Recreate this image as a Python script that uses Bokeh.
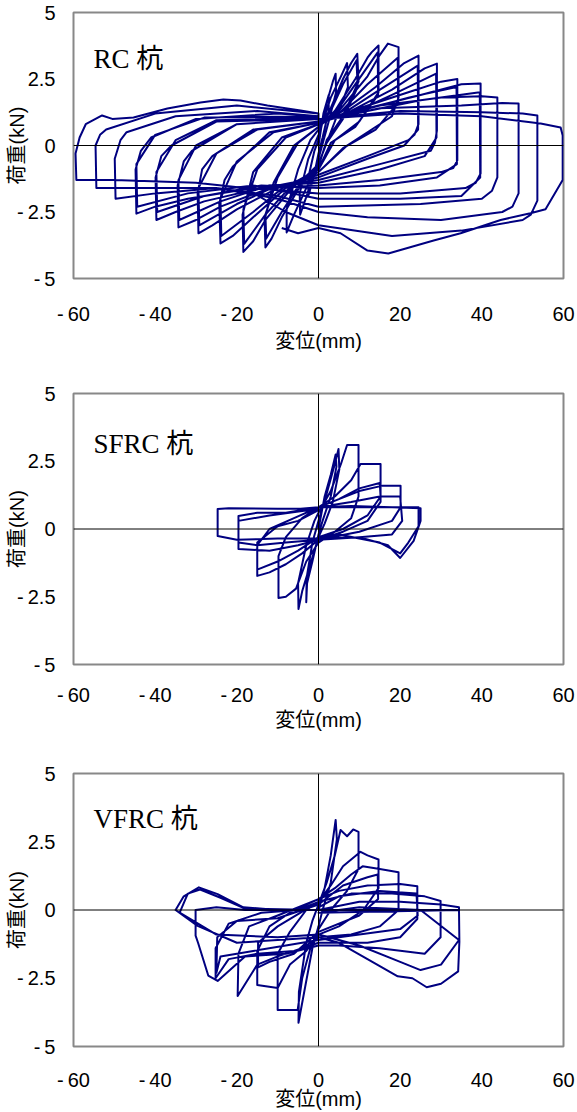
from bokeh.plotting import figure
from bokeh.layouts import column
from bokeh.models import Span, Label, FixedTicker, Range1d
from bokeh.embed import file_html
from bokeh.resources import INLINE

# ---- data (displacement mm, load kN), one list of points per loading cycle ----
rc_cycles = [
    [(0,0),(1.2,1.2),(2.5,1.9),(2.5,1.3),(1,0.3),(0,-0.3),(-1.2,-1.2),(-2.5,-1.9),(-2.5,-1.2),(-1,-0.2),(0,0.2)],
    [(0,0.2),(2,1.6),(3.5,2.4),(4.2,2.7),(4.3,2.0),(2.5,0.9),(0,-0.5),(-2,-1.5),(-4.5,-2.6),(-4.6,-1.8),(-2.5,-0.5),(0,0.4)],
    [(0,0.4),(3,1.8),(5.5,2.6),(7,3.1),(7.2,2.2),(4,0.9),(0,-0.7),(-3,-1.6),(-6,-2.6),(-7.8,-3.27),(-7.8,-2.4),(-5,-0.9),(-2,0.2),(0,0.6)],
    [(0,0.6),(3,1.4),(6,2.5),(8,3.1),(9.5,3.45),(9.8,2.4),(6,1.1),(2,0.2),(0,-0.8),(-4,-1.4),(-9,-2.7),(-11.5,-3.5),(-13,-3.83),(-13.2,-2.8),(-11,-1.4),(-6,0.0),(0,0.7)],
    [(0,0.7),(3,1.3),(6,2.3),(9.3,3.2),(9.6,2.2),(6,1.0),(2,0.1),(0,-0.7),(-4,-1.3),(-9,-2.5),(-12.8,-3.5),(-13,-2.6),(-10,-1.2),(-5,0.1),(0,0.7)],
    [(0,0.7),(4,1.3),(9,2.5),(12,3.3),(13,3.5),(14.7,3.76),(14.7,2.0),(10,0.9),(4,0.2),(0,-0.9),(-6,-1.5),(-13,-2.8),(-16,-3.6),(-18.4,-4.0),(-18.6,-2.6),(-16,-1.0),(-9,0.3),(0,0.8)],
    [(0,0.7),(4,1.2),(9,2.3),(14.5,3.5),(14.6,1.9),(9,0.7),(3,0.1),(0,-0.9),(-6,-1.4),(-13,-2.6),(-18.2,-3.7),(-18.4,-2.4),(-15,-0.9),(-8,0.3),(0,0.8)],
    [(0,0.75),(5,1.3),(12,2.6),(15,3.4),(17,3.83),(19.6,3.7),(19.6,1.8),(18,1.1),(15,0.8),(7,0.0),(0,-1.0),(-8,-1.6),(-16,-2.7),(-21,-3.4),(-24,-3.68),(-24.3,-2.2),(-23,-1.3),(-21,-0.8),(-12,0.5),(0,0.85)],
    [(0,0.75),(5,1.2),(12,2.3),(19.4,3.3),(19.5,1.6),(14,0.6),(6,-0.1),(0,-1.0),(-8,-1.5),(-16,-2.5),(-23.8,-3.4),(-24,-2.0),(-20,-0.6),(-11,0.5),(0,0.85)],
    [(0,0.8),(6,1.3),(14,2.2),(21,3.1),(24.5,3.38),(24.5,0.8),(23.5,0.4),(22,0.2),(12,-0.4),(0,-1.1),(-10,-1.6),(-20,-2.4),(-26,-3.0),(-29.4,-3.3),(-29.6,-1.8),(-28.5,-0.9),(-26,-0.4),(-16,0.6),(0,0.9)],
    [(0,0.8),(6,1.2),(14,2.0),(24.3,3.0),(24.4,0.6),(21,0.0),(12,-0.5),(0,-1.2),(-10,-1.5),(-20,-2.2),(-29.2,-3.0),(-29.4,-1.6),(-25,-0.3),(-15,0.6),(0,0.9)],
    [(0,0.8),(8,1.3),(18,2.1),(26,2.9),(29,3.08),(29,0.56),(28.5,0.1),(27.5,-0.2),(15,-0.7),(0,-1.3),(-12,-1.6),(-24,-2.3),(-30,-2.8),(-34.3,-3.08),(-34.5,-1.5),(-33,-0.6),(-31,-0.2),(-20,0.8),(0,1.0)],
    [(0,0.85),(8,1.2),(18,1.9),(28.8,2.7),(28.9,0.3),(26,-0.4),(15,-0.9),(0,-1.4),(-12,-1.5),(-24,-2.1),(-34.1,-2.8),(-34.3,-1.3),(-30,0.0),(-20,0.8),(0,1.0)],
    [(0,0.85),(10,1.4),(22,2.0),(30,2.4),(34,2.5),(34,-0.56),(33,-0.85),(30,-1.0),(15,-1.3),(0,-1.5),(-14,-1.6),(-28,-2.1),(-35,-2.5),(-39.7,-2.8),(-39.9,-1.2),(-38.5,-0.4),(-36,0.0),(-25,0.9),(0,1.0)],
    [(0,0.9),(10,1.3),(22,1.8),(33.8,2.2),(33.9,-0.7),(29,-1.2),(15,-1.5),(0,-1.6),(-14,-1.5),(-28,-1.9),(-39.5,-2.5),(-39.7,-1.0),(-35,0.2),(-25,0.95),(0,1.05)],
    [(0,0.9),(12,1.4),(25,1.9),(35,2.3),(39.7,2.33),(39.7,-1.05),(38.5,-1.4),(36,-1.6),(20,-1.8),(0,-1.8),(-16,-1.6),(-32,-2.0),(-40,-2.3),(-44.6,-2.56),(-44.8,-0.9),(-43.5,-0.2),(-41,0.3),(-30,1.0),(-10,1.2),(0,1.1)],
    [(0,0.9),(12,1.3),(25,1.7),(39.5,2.0),(39.6,-1.2),(35,-1.9),(20,-2.0),(0,-2.0),(-16,-1.5),(-32,-1.8),(-44.4,-2.3),(-44.6,-0.7),(-40,0.4),(-28,1.05),(0,1.1)],
    [(0,0.9),(15,1.5),(30,1.8),(40,1.85),(43.8,1.8),(43.8,-1.2),(42.5,-1.7),(40,-2.0),(25,-2.2),(0,-2.3),(-10,-1.9),(-25,-1.6),(-40,-1.8),(-49.7,-2.0),(-49.9,-0.5),(-48.5,0.2),(-47,0.5),(-35,1.1),(-15,1.3),(0,1.1)],
    [(0,0.9),(15,1.4),(35,1.5),(45,1.6),(49,1.58),(49,-1.8),(47.5,-2.3),(45,-2.5),(30,-2.8),(12,-2.7),(0,-2.5),(-10,-2.0),(-25,-1.6),(-45,-1.6),(-54.4,-1.6),(-54.6,0.0),(-53.5,0.4),(-52,0.6),(-40,1.2),(-20,1.5),(0,1.2)],
    [(0,1.0),(20,1.3),(40,1.25),(50,1.2),(53.6,1.13),(53.6,-2.07),(52,-2.6),(50,-2.8),(35,-3.2),(18,-3.4),(0,-3.0),(-8,-2.5),(-18,-1.6),(-30,-1.4),(-50,-1.3),(-59.3,-1.3),
     (-59.5,-0.3),(-58.5,0.3),(-57,0.8),(-53,1.13),(-50.5,1.0),(-45.3,1.05),(-37,1.39),(-28.9,1.62),(-23.3,1.73),(-19.1,1.69),(-12.5,1.5),(-4.4,1.32),(0,1.2)],
    [(0,1.0),(20,1.2),(40,1.1),(54.4,0.83),(59.3,0.68),(59.8,0.38),(59.8,-1.3),(55.6,-2.4),(51.9,-2.55),(44.6,-2.8),(34.8,-3.3),(28.2,-3.57),(17.1,-4.06),(12,-3.95),(5.4,-3.3),(0,-3.1),(-5,-3.3),(-9,-3.1)],
]

sfrc_cycles = [
    [(0,0),(1.5,1.2),(3,2.0),(4.2,2.75),(4.4,2.3),(3,1.2),(1,0.3),(0,-0.2),(-1.5,-1.2),(-2.8,-2.0),(-3,-2.7),(-2.9,-1.8),(-1.5,-0.5),(0,0.3)],
    [(0,0.3),(2,1.3),(4,2.4),(4.9,2.95),(5.1,2.2),(3.5,1.0),(1.5,0.2),(0,-0.3),(-2,-1.3),(-4,-2.3),(-4.9,-2.95),(-5,-2.0),(-3,-0.6),(-1,0.3),(0,0.6)],
    [(0,0.6),(3,1.4),(5.5,2.4),(7,3.1),(9.8,3.1),(9.8,1.2),(8,0.4),(4,-0.1),(0,-0.5),(-3,-1.2),(-5.5,-2.2),(-8,-2.5),(-9.8,-2.55),(-9.8,-1.0),(-8,-0.3),(-4,0.4),(0,0.8)],
    [(0,0.8),(4,1.2),(8,1.8),(10.3,2.4),(15.2,2.4),(15.2,1.0),(12,0.3),(6,-0.1),(0,-0.4),(-4,-0.9),(-8,-1.3),(-12,-1.6),(-15,-1.73),(-15,-0.6),(-12,0.0),(-6,0.4),(0,0.8)],
    [(0,0.8),(5,1.1),(10,1.5),(15,1.7),(15.2,1.2),(12,0.5),(6,0.0),(0,-0.3),(-5,-0.8),(-10,-1.2),(-15,-1.5),(-15,-0.5),(-10,0.1),(-5,0.3),(0,0.7)],
    [(0,0.8),(5,1.1),(10,1.4),(15.7,1.6),(20.1,1.6),(20.1,0.8),(18,0.3),(10,-0.1),(0,-0.4),(-5,-0.6),(-12,-0.8),(-19.6,-0.74),(-19.6,0.48),(-15,0.6),(-8,0.6),(0,0.8)],
    [(0,0.8),(8,1.0),(15,1.2),(20,1.2),(20.5,0.3),(18,-0.2),(10,-0.3),(0,-0.4),(-8,-0.5),(-15,-0.6),(-19.6,-0.5),(-19.6,0.3),(-12,0.5),(0,0.75)],
    [(0,0.8),(8,0.85),(18,0.8),(25,0.77),(25,0.3),(23.3,-0.44),(20,-1.07),(17,-0.6),(10,-0.3),(0,-0.35),(-10,-0.35),(-20,-0.4),(-24.7,-0.26),(-24.7,0.74),(-22,0.77),(-10,0.75),(-4.4,0.75),(0,0.8)],
    [(0,0.8),(10,0.8),(20,0.8),(24.5,0.8),(24.5,0.1),(22,-0.5),(20,-0.9),(15,-0.5),(5,-0.2),(0,-0.3)],
]

vfrc_cycles = [
    [(0,0),(1.5,0.8),(3,2.0),(4.2,3.3),(4.5,2.6),(3,1.0),(1,0.0),(0,-0.6),(-1.5,-1.4),(-3,-2.6),(-4.9,-4.13),(-4.8,-3.0),(-3,-1.2),(-1.5,-0.4),(0,0.2)],
    [(0,0.2),(2,1.0),(4,2.0),(5.4,2.93),(7,2.7),(8.5,2.95),(9.8,2.86),(9.8,1.5),(7,0.7),(3,0.0),(0,-0.7),(-2,-1.4),(-4,-2.5),(-5.1,-3.66),(-10,-3.66),(-10,-1.6),(-7,-0.8),(-3,0.0),(0,0.3)],
    [(0,0.3),(3,0.9),(6,1.6),(10.3,2.13),(12,2.0),(14.7,1.85),(14.7,0.8),(11,0.0),(5,-0.6),(0,-0.9),(-3,-1.5),(-7,-2.0),(-10,-2.86),(-15,-2.75),(-15,-1.5),(-12,-0.6),(-6,0.0),(0,0.4)],
    [(0,0.2),(6,0.9),(12,1.2),(14.5,1.3),(14.6,0.4),(10,-0.2),(0,-0.8),(-6,-1.6),(-12,-1.9),(-14.8,-2.1),(-14.8,-1.2),(-10,-0.6),(0,0.3)],
    [(0,0.4),(4,0.8),(8,1.3),(10.8,1.6),(15,1.5),(19.6,1.38),(19.6,0.0),(15,-0.6),(8,-0.9),(0,-1.0),(-4,-1.4),(-10,-1.7),(-15,-2.0),(-19.8,-3.15),(-19.6,-1.6),(-17,-0.6),(-10,-0.2),(0,0.4)],
    [(0,0.4),(5,0.7),(12,0.9),(20,0.95),(24.2,0.87),(24.2,-0.33),(20,-1.0),(12,-1.2),(0,-1.2),(-6,-1.5),(-15,-1.6),(-22,-1.8),(-25.2,-2.5),(-25.2,-1.4),(-22,-0.5),(-14,-0.1),(-5,0.0),(0,0.3)],
    [(0,0.1),(5,0.5),(15,0.7),(24,0.6),(24.3,-0.2),(20,-0.7),(10,-0.9),(0,-1.1),(-8,-1.3),(-16,-1.5),(-24,-1.7),(-25,-2.3),(-24.8,-1.0),(-20,-0.4),(-10,-0.3),(0,0.2)],
    [(0,0.3),(8,0.6),(18,0.6),(26,0.5),(29.9,0.33),(29.9,-1.0),(26,-1.6),(15,-1.4),(5,-1.3),(0,-1.3),(-8,-1.6),(-18,-1.7),(-24.7,-2.6),(-27,-2.4),(-29.5,-1.2),(-30.1,-0.94),(-30.1,0.0),(-25,0.1),(-18,0.0),(0,0.0)],
    [(0,0),(10,0.3),(20,0.3),(30,0.2),(34.4,0.1),(34.5,-1.17),(34.2,-2.25),(30,-2.7),(26.5,-2.83),(23,-2.5),(19.4,-2.43),(12,-1.8),(5,-1.2),(0,-1.0),(-10,-1.1),(-20,-1.2),(-29.6,-0.58),(-35,0.0),(-33,0.5),(-29.3,0.83),(-24.7,0.58),(-18.4,0.1),(-10,0.0),(0,0.0),(34.4,0.0)],
    [(0,-0.1),(10,0.1),(25,0.0),(34.4,-1.1),(30,-2.0),(25,-2.2),(20,-1.9),(10,-1.3),(0,-0.9),(-10,-1.0),(-25,-0.9),(-34,-0.1),(-32,0.6),(-29,0.75),(-24,0.45),(-18,0.05),(0,0.0)],
]

titles = ["RC 杭", "SFRC 杭", "VFRC 杭"]
x_ticks = [-60, -40, -20, 0, 20, 40, 60]
x_tick_labels = {-60: "-\u200960", -40: "-\u200940", -20: "-\u200920", 0: "0", 20: "20", 40: "40", 60: "60"}
y_ticks = [-5, -2.5, 0, 2.5, 5]
y_tick_labels = {5: "5", 2.5: "2.5", 0: "0", -2.5: "-\u20092.5", -5: "-\u20095"}

LINE = "#000080"
SANS = "Liberation Sans, Noto Sans CJK JP"
SERIF = "Liberation Serif, Noto Sans CJK JP"


def make(cycles, title, height, top, frame_h, tick_sd, lab_sd, title_y):
    p = figure(width=577, height=height, output_backend="svg", toolbar_location=None,
               x_range=Range1d(-60, 60), y_range=Range1d(-5, 5),
               min_border_left=73, min_border_right=14, min_border_top=top,
               min_border_bottom=height - top - frame_h)
    xs = [pt[0] for c in cycles for pt in c]
    ys = [pt[1] for c in cycles for pt in c]
    p.line(xs, ys, line_color=LINE, line_width=2, line_join="round")
    p.add_layout(Span(location=0, dimension="width", line_color="black", line_width=1))
    p.add_layout(Span(location=0, dimension="height", line_color="black", line_width=1))
    p.add_layout(Label(x=-55.1, y=title_y, text=title, text_font=SERIF, text_font_size="27px",
                       text_baseline="alphabetic", text_color="black"))
    p.grid.visible = False
    p.outline_line_color = "#888888"
    p.outline_line_width = 2
    p.background_fill_color = "white"
    p.border_fill_color = "white"
    for ax in (p.xaxis[0], p.yaxis[0]):
        ax.axis_line_color = None
        ax.major_tick_line_color = None
        ax.minor_tick_line_color = None
        ax.major_tick_out = 0
        ax.major_tick_in = 0
        ax.minor_tick_out = 0
        ax.major_label_text_font = SANS
        ax.major_label_text_font_size = "20px"
        ax.major_label_text_color = "black"
        ax.axis_label_text_font = SANS
        ax.axis_label_text_font_size = "20px"
        ax.axis_label_text_font_style = "normal"
        ax.axis_label_text_color = "black"
    p.xaxis[0].ticker = FixedTicker(ticks=x_ticks)
    p.yaxis[0].ticker = FixedTicker(ticks=y_ticks)
    p.xaxis[0].major_label_overrides = x_tick_labels
    p.yaxis[0].major_label_overrides = y_tick_labels
    p.xaxis[0].axis_label = "変位(mm)"
    p.yaxis[0].axis_label = "荷重(kN)"
    p.xaxis[0].major_label_standoff = tick_sd
    p.xaxis[0].axis_label_standoff = lab_sd
    p.yaxis[0].major_label_standoff = 18
    p.yaxis[0].axis_label_standoff = -14
    return p


p1 = make(rc_cycles, titles[0], 375, 12, 266, 24, 2, 3.27)
p2 = make(sfrc_cycles, titles[1], 380, 18, 271, 19, 0, 3.15)
p3 = make(vfrc_cycles, titles[2], 357, 18, 276, 22, -6, 3.33)

layout = column(p1, p2, p3, spacing=0)
open("out.html", "w").write(file_html(layout, INLINE))
